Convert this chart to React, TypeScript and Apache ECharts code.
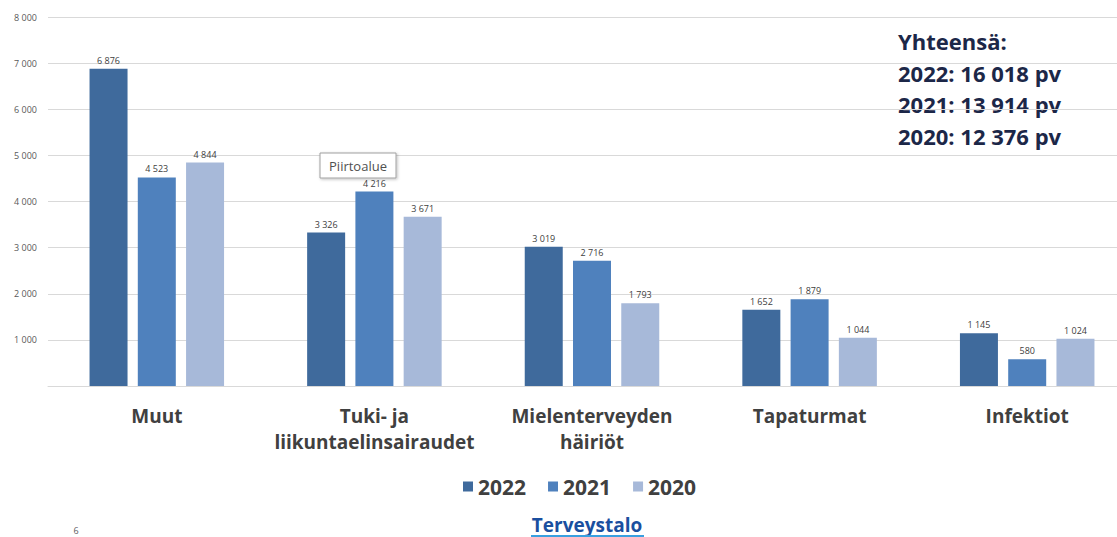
import React, { useEffect, useRef } from "react";
import * as echarts from "echarts";

const categories = ["Muut", "Tuki- ja\nliikuntaelinsairaudet", "Mielenterveyden\nhäiriöt", "Tapaturmat", "Infektiot"];
const seriesNames = ["2022", "2021", "2020"];
const values2022 = [6876, 3326, 3019, 1652, 1145];
const values2021 = [4523, 4216, 2716, 1879, 580];
const values2020 = [4844, 3671, 1793, 1044, 1024];
const colors = ["#3f6a9c", "#4f81bd", "#a7b9d9"];
const totalsLines = ["Yhteensä:", "2022: 16 018 pv", "2021: 13 914 pv", "2020: 12 376 pv"];

const fmt = (v: number) => {
  const s = String(Math.round(v));
  return s.replace(/\B(?=(\d{3})+(?!\d))/g, " ");
};

export default function App() {
  const ref = useRef<HTMLDivElement>(null);
  useEffect(() => {
    if (!ref.current) return;
    const chart = echarts.init(ref.current, undefined, { renderer: "svg" });
    const data = [values2022, values2021, values2020];
    chart.setOption({
      animation: false,
      backgroundColor: "#ffffff",
      grid: { left: 48, top: 17, width: 1088, height: 369, containLabel: false },
      legend: {
        left: 463,
        top: 476,
        padding: 0,
        itemWidth: 10,
        itemHeight: 10,
        itemGap: 22,
        icon: "rect",
        textStyle: { fontFamily: "Open Sans", fontWeight: "bold", fontSize: 21, color: "#404040" },
        data: seriesNames,
      },
      xAxis: {
        type: "category",
        data: categories,
        axisLine: { show: true, lineStyle: { color: "#d9d9d9", width: 1 } },
        axisTick: { show: false },
        axisLabel: {
          interval: 0,
          margin: 17,
          fontFamily: "Open Sans",
          fontWeight: "bold",
          fontSize: 19,
          lineHeight: 26,
          color: "#404040",
        },
      },
      yAxis: {
        type: "value",
        min: 0,
        max: 8000,
        interval: 1000,
        axisLine: { show: false },
        axisTick: { show: false },
        splitLine: { lineStyle: { color: "#d9d9d9", width: 1 } },
        axisLabel: {
          fontFamily: "Open Sans",
          fontSize: 9,
          color: "#595959",
          margin: 11,
          formatter: (v: number) => (v === 0 ? "" : fmt(v)),
        },
      },
      series: seriesNames.map((name, i) => ({
        name,
        type: "bar",
        data: data[i],
        barWidth: 38,
        barGap: "27%",
        itemStyle: { color: colors[i] },
        label: {
          show: true,
          position: "top",
          distance: 4,
          fontFamily: "Open Sans",
          fontSize: 9,
          color: "#404040",
          formatter: (p: any) => fmt(p.value),
        },
      })),
      graphic: [
        ...totalsLines.map((t, i) => ({
          type: "text",
          left: 898,
          top: 30 + i * 31.5,
          style: {
            text: t,
            fontFamily: "Open Sans",
            fontWeight: "bold",
            fontSize: 22,
            fill: "#1c2748",
          },
        })),
        {
          type: "rect",
          shape: { x: 320, y: 153, width: 76, height: 25 },
          style: { fill: "#ffffff", stroke: "#a0a0a0", lineWidth: 1, shadowBlur: 3, shadowOffsetX: 1, shadowOffsetY: 1, shadowColor: "rgba(0,0,0,0.25)" },
          z: 100,
        },
        {
          type: "text",
          x: 358,
          y: 165.5,
          style: {
            text: "Piirtoalue",
            fontFamily: "Open Sans",
            fontSize: 13,
            fill: "#505050",
            align: "center",
            verticalAlign: "middle",
          },
          z: 101,
        },
        {
          type: "text",
          x: 587,
          y: 525,
          style: {
            text: "Terveystalo",
            fontFamily: "Open Sans",
            fontWeight: "bold",
            fontSize: 19,
            fill: "#1a4f9f",
            align: "center",
            verticalAlign: "middle",
            letterSpacing: -1,
          },
        },
        {
          type: "line",
          shape: { x1: 531, y1: 536, x2: 644, y2: 536 },
          style: { stroke: "#39a0e0", lineWidth: 2 },
        },
        {
          type: "text",
          x: 76,
          y: 530,
          style: { text: "6", fontFamily: "Open Sans", fontSize: 9, fill: "#606060", align: "center", verticalAlign: "middle" },
        },
      ],
    });
    return () => chart.dispose();
  }, []);
  return (
    <div style={{ width: 1117, height: 537, position: "absolute", left: 0, top: 0, overflow: "hidden" }}>
      <div ref={ref} style={{ width: 1140, height: 537 }} />
    </div>
  );
}
